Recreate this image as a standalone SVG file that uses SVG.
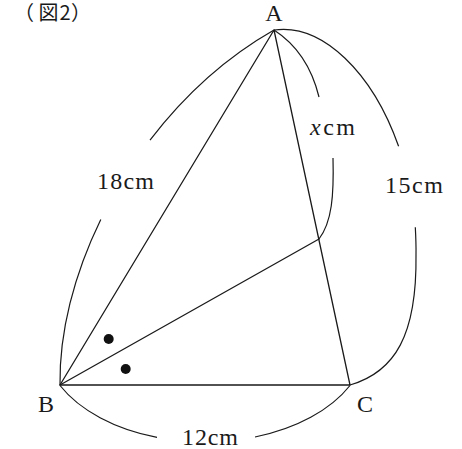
<svg xmlns="http://www.w3.org/2000/svg" width="462" height="449" viewBox="0 0 462 449">
<style>
.ln{fill:none;stroke:#1a1a1a;stroke-width:1.3;stroke-linecap:round;stroke-linejoin:round}
.arc{fill:none;stroke:#1a1a1a;stroke-width:1.2;stroke-linecap:butt}
.lb{font-family:"Liberation Serif","DejaVu Serif",serif;font-size:24px;fill:#1a1a1a}
.ttl{font-family:"Noto Sans CJK JP","Noto Sans",sans-serif;font-size:20px;fill:#1a1a1a}
</style>
<rect width="462" height="449" fill="#fff"/>
<g id="title"><text class="ttl" x="14 38.5 59.5 71" y="19.5">（図2）</text></g>
<g id="connectors">
<path class="ln" d="M274,30 L60,385 L350,385 Z"/>
<path class="ln" d="M60,385 L319,239"/>
</g>
<g id="dimension-arcs">
<path class="arc" d="M274,30 C225.9,57.4 183.8,96 150,140.1"/>
<path class="arc" d="M100.8,219.4 C73.9,274.5 59.2,332.5 60,385"/>
<path class="arc" d="M274,30 C323,23.1 372.9,73.4 398.6,146.3"/>
<path class="arc" d="M415.3,227.2 C415.8,236.3 416.15,245.6 416,255 C417,335 395,372 350,385"/>
<path class="arc" d="M274,30 Q308,52 319,97"/>
<path class="arc" d="M333,158 C334,195 332,222 319,239"/>
<path class="arc" d="M60,385.5 A162,102 0 0 0 157,437.4"/>
<path class="arc" d="M255,437 A162,102 0 0 0 350,385.5"/>
</g>
<g id="angle-marks">
<circle cx="108.7" cy="339" r="5" fill="#111"/>
<circle cx="125.7" cy="369" r="5" fill="#111"/>
</g>
<g id="node-A"><text class="lb" x="274" y="21" text-anchor="middle">A</text></g>
<g id="node-B"><text class="lb" x="46" y="412" text-anchor="middle">B</text></g>
<g id="node-C"><text class="lb" x="365" y="412" text-anchor="middle">C</text></g>
<g id="label-AB"><text class="lb" x="97" y="188.5" textLength="57">18cm</text></g>
<g id="label-AC"><text class="lb" x="385" y="193" textLength="58">15cm</text></g>
<g id="label-BC"><text class="lb" x="182" y="445" textLength="56">12cm</text></g>
<g id="label-AD"><text class="lb" x="310" y="134.5" textLength="45"><tspan font-style="italic">x</tspan>cm</text></g>
</svg>
